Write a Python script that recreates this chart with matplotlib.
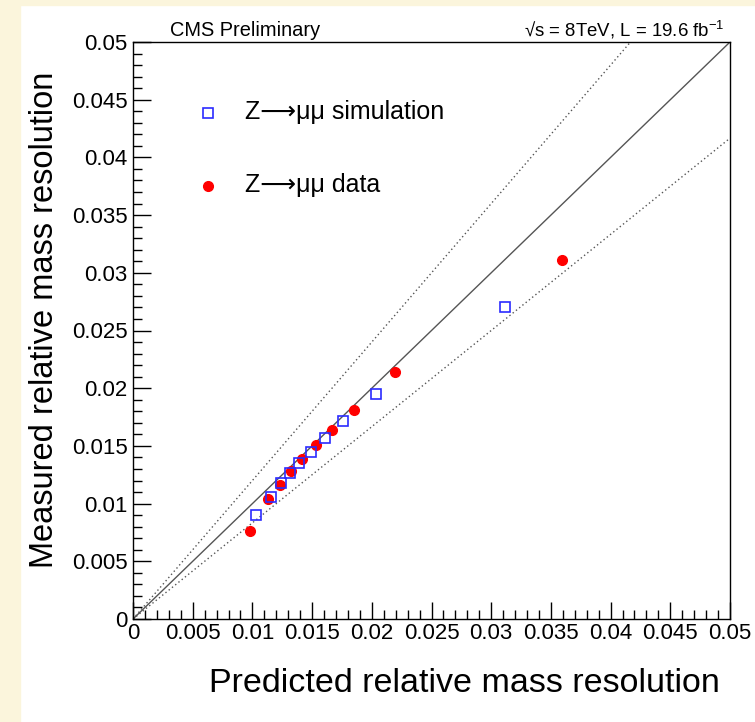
import matplotlib
matplotlib.use("Agg")
import matplotlib.pyplot as plt
from matplotlib.ticker import MultipleLocator, FixedFormatter, FixedLocator
from matplotlib.patches import Rectangle
import numpy as np

plt.rcParams['font.family'] = ['Liberation Sans', 'DejaVu Sans']
plt.rcParams['mathtext.fontset'] = 'custom'
plt.rcParams['mathtext.rm'] = 'Liberation Sans'

# Data
sim_pred = [0.01028, 0.01153, 0.01237, 0.01315, 0.01388, 0.01488, 0.01608, 0.01756, 0.02035, 0.03116]
sim_meas = [0.00901, 0.01060, 0.01181, 0.01268, 0.01354, 0.01447, 0.01568, 0.01716, 0.01950, 0.02706]
data_pred = [0.00980, 0.01128, 0.01231, 0.01323, 0.01413, 0.01533, 0.01667, 0.01848, 0.02194, 0.03590]
data_meas = [0.00763, 0.01037, 0.01161, 0.01285, 0.01384, 0.01508, 0.01638, 0.01811, 0.02140, 0.03111]
band_factor = 1.2
tick_values = [0, 0.005, 0.01, 0.015, 0.02, 0.025, 0.03, 0.035, 0.04, 0.045, 0.05]
tick_labels = ['0', '0.005', '0.01', '0.015', '0.02', '0.025', '0.03', '0.035', '0.04', '0.045', '0.05']

W, H = 755, 722
fig = plt.figure(figsize=(W / 100, H / 100), dpi=100)
fig.patch.set_facecolor('white')
cream = '#FBF5DC'
fig.patches.append(Rectangle((0, 0), 20 / W, 1, transform=fig.transFigure, color=cream, zorder=-10))
fig.patches.append(Rectangle((0, 1 - 5 / H), 1, 5 / H, transform=fig.transFigure, color=cream, zorder=-10))

ax = fig.add_axes([133 / W, (H - 619) / H, 597 / W, 577 / H])
ax.set_xlim(0, 0.05)
ax.set_ylim(0, 0.05)

xx = np.array([0, 0.05])
ax.plot(xx, xx, color='#555555', lw=1.0, zorder=1)
ax.plot(xx, xx * band_factor, color='#555555', lw=1.0, ls=(0, (1, 2)), zorder=1)
ax.plot(xx, xx / band_factor, color='#555555', lw=1.0, ls=(0, (1, 2)), zorder=1)

ax.plot(sim_pred, sim_meas, ls='none', marker='s', ms=7, mfc='none', mec='#2b2bff', mew=1.2, zorder=3)
ax.plot(data_pred, data_meas, ls='none', marker='o', ms=7, mfc='#ff0000', mec='#ff0000', zorder=2)

for a in (ax.xaxis, ax.yaxis):
    a.set_major_locator(FixedLocator(tick_values))
    a.set_major_formatter(FixedFormatter(tick_labels))
    a.set_minor_locator(MultipleLocator(0.001))
ax.tick_params(which='both', direction='in', top=False, right=False, labelsize=16, width=1)
ax.tick_params(axis='y', which='major', length=13)
ax.tick_params(axis='y', which='minor', length=6.5)
ax.tick_params(axis='x', which='major', length=12.5)
ax.tick_params(axis='x', which='minor', length=6.3)
ax.tick_params(axis='x', pad=3)
ax.tick_params(axis='y', pad=4)
for s in ax.spines.values():
    s.set_linewidth(1.0)

fig.text(720 / W, 1 - 683 / H, 'Predicted relative mass resolution', ha='right', va='center', fontsize=24.5)
fig.text(45 / W, 1 - 320 / H, 'Measured relative mass resolution', rotation=90, ha='center', va='center', fontsize=23.5)

fig.text(170 / W, 1 - 30 / H, 'CMS Preliminary', ha='left', va='center', fontsize=14.4)
fig.text(725 / W, 1 - 30 / H, '√s = 8TeV, L = 19.6 fb$^{-1}$', ha='right', va='center', fontsize=13.4)

# Legend
ax.plot([0.00625], [0.04385], ls='none', marker='s', ms=6.5, mfc='none', mec='#2b2bff', mew=1.2, clip_on=False)
ax.plot([0.00625], [0.03752], ls='none', marker='o', ms=7, mfc='#ff0000', mec='#ff0000', clip_on=False)
fig.text(245 / W, 1 - 112 / H, 'Z⟶μμ simulation', ha='left', va='center', fontsize=18)
fig.text(245 / W, 1 - 185 / H, 'Z⟶μμ data', ha='left', va='center', fontsize=18)

fig.savefig('out.png', dpi=100)
